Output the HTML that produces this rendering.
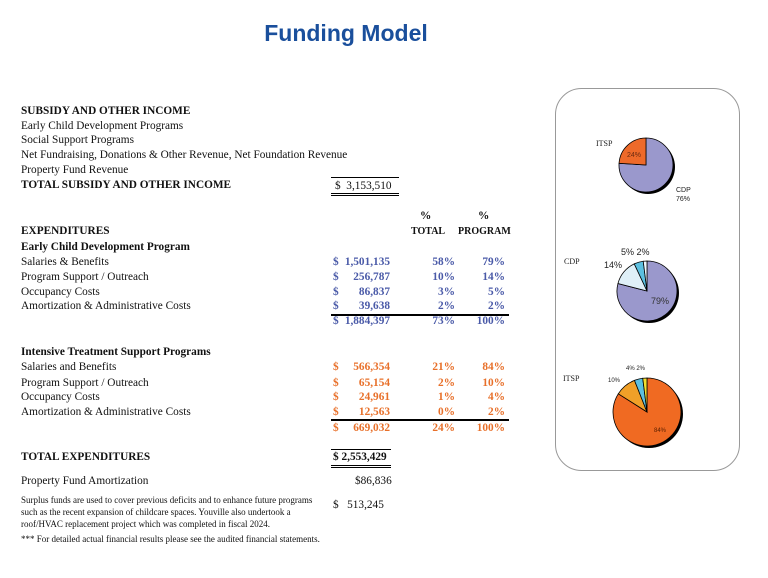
<!DOCTYPE html>
<html><head><meta charset="utf-8"><style>
body{margin:0;width:768px;height:578px;background:#fff;position:relative;font-family:"Liberation Serif",serif;font-size:11.3px;color:#111;overflow:hidden}
.t{position:absolute;white-space:nowrap;line-height:12px}
.b{font-weight:bold}
.bl{color:#4a5aa8;font-weight:bold}
.or{color:#e8702a;font-weight:bold}
.r{text-align:right}
.ln{position:absolute;background:#000}
</style></head><body>
<div class="t" style="left:0;width:692px;text-align:center;top:20px;font:bold 23px 'Liberation Sans',sans-serif;color:#1a4f9c;line-height:26px">Funding Model</div>

<div class="t b" style="left:21px;top:105px">SUBSIDY AND OTHER INCOME</div>
<div class="t" style="left:21px;top:120px">Early Child Development Programs</div>
<div class="t" style="left:21px;top:134px">Social Support Programs</div>
<div class="t" style="left:21px;top:149px">Net Fundraising, Donations &amp; Other Revenue, Net Foundation Revenue</div>
<div class="t" style="left:21px;top:164px">Property Fund Revenue</div>
<div class="t b" style="left:21px;top:179px">TOTAL SUBSIDY AND OTHER INCOME</div>
<div class="ln" style="left:331px;top:177px;width:68px;height:1px"></div>
<div class="t" style="left:335px;top:180px">$&nbsp; 3,153,510</div>
<div class="ln" style="left:331px;top:193px;width:68px;height:1px"></div>
<div class="ln" style="left:331px;top:195px;width:68px;height:1px"></div>

<div class="t b" style="left:420px;top:210px">%</div>
<div class="t b" style="left:478px;top:210px">%</div>
<div class="t b" style="left:411px;top:226px;font-size:10px">TOTAL</div>
<div class="t b" style="left:458px;top:226px;font-size:10px">PROGRAM</div>
<div class="t b" style="left:21px;top:225px">EXPENDITURES</div>
<div class="t b" style="left:21px;top:241px">Early Child Development Program</div>
<div class="t" style="left:21px;top:256px">Salaries &amp; Benefits</div>
<div class="t" style="left:21px;top:271px">Program Support / Outreach</div>
<div class="t" style="left:21px;top:286px">Occupancy Costs</div>
<div class="t" style="left:21px;top:300px">Amortization &amp; Administrative Costs</div>

<div style="position:absolute;left:333px;top:256px;width:175px" class="bl">
<div style="position:relative;height:15px"><span style="position:absolute;left:0">$</span><span style="position:absolute;right:118px">1,501,135</span><span style="position:absolute;right:53px">58%</span><span style="position:absolute;right:3px">79%</span></div>
<div style="position:relative;height:15px"><span style="position:absolute;left:0">$</span><span style="position:absolute;right:118px">256,787</span><span style="position:absolute;right:53px">10%</span><span style="position:absolute;right:3px">14%</span></div>
<div style="position:relative;height:14px"><span style="position:absolute;left:0">$</span><span style="position:absolute;right:118px">86,837</span><span style="position:absolute;right:53px">3%</span><span style="position:absolute;right:3px">5%</span></div>
<div style="position:relative;height:15px"><span style="position:absolute;left:0">$</span><span style="position:absolute;right:118px">39,638</span><span style="position:absolute;right:53px">2%</span><span style="position:absolute;right:3px">2%</span></div>
<div style="position:relative;height:15px"><span style="position:absolute;left:0">$</span><span style="position:absolute;right:118px">1,884,397</span><span style="position:absolute;right:53px">73%</span><span style="position:absolute;right:3px">100%</span></div>
</div>
<div class="ln" style="left:331px;top:314px;width:178px;height:2px"></div>

<div class="t b" style="left:21px;top:346px">Intensive Treatment Support Programs</div>
<div class="t" style="left:21px;top:361px">Salaries and Benefits</div>
<div class="t" style="left:21px;top:377px">Program Support / Outreach</div>
<div class="t" style="left:21px;top:391px">Occupancy Costs</div>
<div class="t" style="left:21px;top:406px">Amortization &amp; Administrative Costs</div>
<div style="position:absolute;left:333px;top:361px;width:175px" class="or">
<div style="position:relative;height:16px"><span style="position:absolute;left:0">$</span><span style="position:absolute;right:118px">566,354</span><span style="position:absolute;right:53px">21%</span><span style="position:absolute;right:3px">84%</span></div>
<div style="position:relative;height:14px"><span style="position:absolute;left:0">$</span><span style="position:absolute;right:118px">65,154</span><span style="position:absolute;right:53px">2%</span><span style="position:absolute;right:3px">10%</span></div>
<div style="position:relative;height:15px"><span style="position:absolute;left:0">$</span><span style="position:absolute;right:118px">24,961</span><span style="position:absolute;right:53px">1%</span><span style="position:absolute;right:3px">4%</span></div>
<div style="position:relative;height:16px"><span style="position:absolute;left:0">$</span><span style="position:absolute;right:118px">12,563</span><span style="position:absolute;right:53px">0%</span><span style="position:absolute;right:3px">2%</span></div>
<div style="position:relative;height:15px"><span style="position:absolute;left:0">$</span><span style="position:absolute;right:118px">669,032</span><span style="position:absolute;right:53px">24%</span><span style="position:absolute;right:3px">100%</span></div>
</div>
<div class="ln" style="left:331px;top:419px;width:178px;height:2px"></div>

<div class="t b" style="left:21px;top:451px">TOTAL EXPENDITURES</div>
<div class="ln" style="left:331px;top:449px;width:60px;height:1px"></div>
<div class="t b" style="left:333px;top:451px">$ 2,553,429</div>
<div class="ln" style="left:331px;top:465px;width:60px;height:1px"></div>
<div class="ln" style="left:331px;top:467px;width:60px;height:1px"></div>
<div class="t" style="left:21px;top:475px">Property Fund Amortization</div>
<div class="t" style="left:355px;top:475px">$86,836</div>
<div class="t" style="left:21px;top:494px;font-size:9px;line-height:12px;white-space:normal;width:310px">Surplus funds are used to cover previous deficits and to enhance future programs such as the recent expansion of childcare spaces. Youville also undertook a roof/HVAC replacement project which was completed in fiscal 2024.</div>
<div class="t" style="left:333px;top:499px">$&nbsp;&nbsp;&nbsp;513,245</div>
<div class="t" style="left:21px;top:533px;font-size:9px">*** For detailed actual financial results please see the audited financial statements.</div>

<svg style="position:absolute;left:0;top:0" width="768" height="578">
<rect x="555.5" y="88.5" width="184" height="382" rx="26" fill="none" stroke="#999" stroke-width="1"/>
<g font-family="Liberation Sans,sans-serif" font-size="7" fill="#222">
<circle cx="648" cy="167" r="27" fill="#000"/>
<path d="M646,165 L646,138 A27,27 0 1 1 619.05,163.3 Z" fill="#9a98cc" stroke="#000" stroke-width="0.8"/>
<path d="M646,165 L619.05,163.3 A27,27 0 0 1 646,138 Z" fill="#ee6a2a" stroke="#000" stroke-width="0.8"/>
<text x="627" y="157" fill="#6a2a10">24%</text>
<text x="676" y="192">CDP</text><text x="676" y="201">76%</text>
<text x="596" y="146" font-family="Liberation Serif,serif" font-size="8">ITSP</text>

<circle cx="649" cy="293" r="30" fill="#000"/>
<path d="M647,291 L647,261 A30,30 0 1 1 617.94,283.54 Z" fill="#9a98cc" stroke="#000" stroke-width="0.8"/>
<path d="M647,291 L617.94,283.54 A30,30 0 0 1 634.23,263.86 Z" fill="#dff0f8" stroke="#000" stroke-width="0.8"/>
<path d="M647,291 L634.23,263.86 A30,30 0 0 1 643.24,261.24 Z" fill="#5cc0e0" stroke="#000" stroke-width="0.8"/>
<path d="M647,291 L643.24,261.24 A30,30 0 0 1 647,261 Z" fill="#eef8ff" stroke="#000" stroke-width="0.8"/>
<text x="651" y="304" font-size="9" fill="#333">79%</text>
<text x="604" y="268" font-size="9">14%</text>
<text x="621" y="255" font-size="9">5% 2%</text>
<text x="564" y="264" font-family="Liberation Serif,serif" font-size="8">CDP</text>

<circle cx="649" cy="414" r="34" fill="#000"/>
<path d="M647,412 L647,378 A34,34 0 1 1 618.29,393.78 Z" fill="#f06a22" stroke="#000" stroke-width="0.8"/>
<path d="M647,412 L618.29,393.78 A34,34 0 0 1 634.48,380.39 Z" fill="#f0a028" stroke="#000" stroke-width="0.8"/>
<path d="M647,412 L634.48,380.39 A34,34 0 0 1 642.74,378.27 Z" fill="#5cc0e0" stroke="#000" stroke-width="0.8"/>
<path d="M647,412 L642.74,378.27 A34,34 0 0 1 647,378 Z" fill="#f2e030" stroke="#000" stroke-width="0.8"/>
<text x="654" y="432" font-size="6" fill="#5a2000">84%</text>
<text x="608" y="382" font-size="6">10%</text>
<text x="626" y="370" font-size="6">4% 2%</text>
<text x="563" y="381" font-family="Liberation Serif,serif" font-size="8">ITSP</text>
</g>
</svg>
</body></html>
